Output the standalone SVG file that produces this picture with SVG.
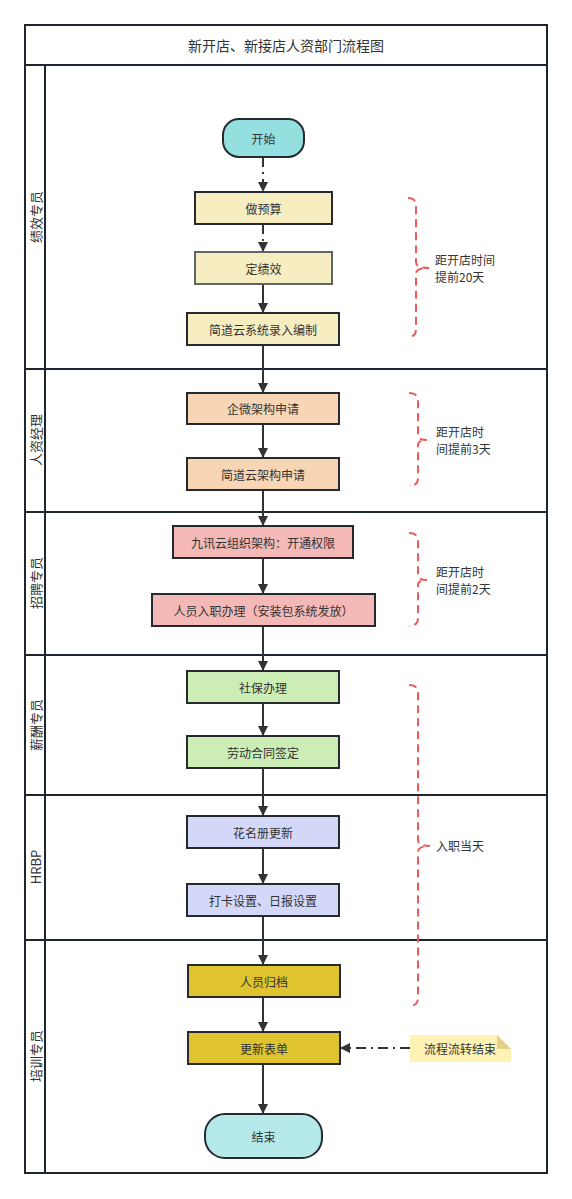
<svg xmlns="http://www.w3.org/2000/svg" width="572" height="1199" viewBox="0 0 572 1199">
<defs>
<style>
text{font-family:"Noto Sans CJK SC","Liberation Sans",sans-serif;fill:#333;}
.t{font-size:12px;text-anchor:middle;dominant-baseline:central;}
.lane{font-size:13px;text-anchor:middle;dominant-baseline:central;}
.frame{fill:none;stroke:#1f262e;stroke-width:2;}
.box{stroke:#262a2f;stroke-width:2;}
.edge{stroke:#333;stroke-width:2;fill:none;}
.dd{stroke-dasharray:10 5 2 5;}
.brace{fill:none;stroke:#ea5b5b;stroke-width:2;stroke-dasharray:8 5;}
.bt{font-size:12px;}
</style>
<marker id="arr" viewBox="0 0 10 10" refX="10" refY="5" markerWidth="5" markerHeight="5" orient="auto" markerUnits="strokeWidth">
<path d="M0,0 L10,5 L0,10 Z" fill="#333"/>
</marker>
</defs>
<rect width="572" height="1199" fill="#fff"/>
<g id="frame">
<rect class="frame" x="25" y="25" width="522" height="1148" fill="#fff"/>
<line class="frame" x1="25" y1="65" x2="547" y2="65"/>
<line class="frame" x1="45" y1="65" x2="45" y2="1173"/>
<line class="frame" x1="25" y1="369" x2="547" y2="369"/>
<line class="frame" x1="25" y1="512" x2="547" y2="512"/>
<line class="frame" x1="25" y1="655" x2="547" y2="655"/>
<line class="frame" x1="25" y1="795" x2="547" y2="795"/>
<line class="frame" x1="25" y1="940" x2="547" y2="940"/>
<text x="286" y="45" class="t" style="font-size:14px">新开店、新接店人资部门流程图</text>
<text class="lane" transform="translate(35,217) rotate(-90)">绩效专员</text>
<text class="lane" transform="translate(35,440) rotate(-90)">人资经理</text>
<text class="lane" transform="translate(35,583) rotate(-90)">招聘专员</text>
<text class="lane" transform="translate(35,725) rotate(-90)">薪酬专员</text>
<text class="lane" transform="translate(35,867) rotate(-90)">HRBP</text>
<text class="lane" transform="translate(35,1056) rotate(-90)">培训专员</text>
</g>
<g id="connectors">
<line class="edge dd" x1="263" y1="157" x2="263" y2="192" marker-end="url(#arr)"/>
<line class="edge dd" x1="263" y1="224" x2="263" y2="252" marker-end="url(#arr)"/>
<line class="edge" x1="263" y1="284" x2="263" y2="313" marker-end="url(#arr)"/>
<line class="edge" x1="263" y1="345" x2="263" y2="393" marker-end="url(#arr)"/>
<line class="edge" x1="263" y1="424" x2="263" y2="458" marker-end="url(#arr)"/>
<line class="edge" x1="263" y1="490" x2="263" y2="526" marker-end="url(#arr)"/>
<line class="edge" x1="263" y1="558" x2="263" y2="594" marker-end="url(#arr)"/>
<line class="edge" x1="263" y1="626" x2="263" y2="671" marker-end="url(#arr)"/>
<line class="edge" x1="263" y1="703" x2="263" y2="736" marker-end="url(#arr)"/>
<line class="edge" x1="263" y1="768" x2="263" y2="816" marker-end="url(#arr)"/>
<line class="edge" x1="263" y1="848" x2="263" y2="884" marker-end="url(#arr)"/>
<line class="edge" x1="263" y1="916" x2="263" y2="965" marker-end="url(#arr)"/>
<line class="edge" x1="263" y1="997" x2="263" y2="1032" marker-end="url(#arr)"/>
<line class="edge" x1="263" y1="1064" x2="263" y2="1114" marker-end="url(#arr)"/>
<line class="edge dd" x1="410" y1="1048" x2="340" y2="1048" marker-end="url(#arr)"/>
</g>
<g id="n-start"><rect class="box" x="223" y="119" width="81" height="38" rx="16" fill="#94e0e1"/><text class="t" x="263.5" y="138">开始</text></g>
<g id="n1"><rect class="box" x="195" y="192" width="137" height="32" fill="#f6edc1"/><text class="t" x="263.5" y="208">做预算</text></g>
<g id="n2"><rect class="box" x="195" y="252" width="137" height="32" fill="#f6edc1" style="stroke:#5f6469"/><text class="t" x="263.5" y="268">定绩效</text></g>
<g id="n3"><rect class="box" x="187" y="313" width="152" height="32" fill="#f6edc1"/><text class="t" x="263" y="329">简道云系统录入编制</text></g>
<g id="n4"><rect class="box" x="187" y="393" width="152" height="31" fill="#f8d6b5"/><text class="t" x="263" y="408.5">企微架构申请</text></g>
<g id="n5"><rect class="box" x="187" y="458" width="152" height="32" fill="#f8d6b5"/><text class="t" x="263" y="474">简道云架构申请</text></g>
<g id="n6"><rect class="box" x="173" y="526" width="180" height="32" fill="#f4b9b7"/><text class="t" x="263" y="542">九讯云组织架构：开通权限</text></g>
<g id="n7"><rect class="box" x="152" y="594" width="223" height="32" fill="#f4b9b7"/><text class="t" x="263.5" y="610">人员入职办理（安装包系统发放）</text></g>
<g id="n8"><rect class="box" x="187" y="671" width="152" height="32" fill="#cdedb6"/><text class="t" x="263" y="687">社保办理</text></g>
<g id="n9"><rect class="box" x="187" y="736" width="152" height="32" fill="#cdedb6"/><text class="t" x="263" y="752">劳动合同签定</text></g>
<g id="n10"><rect class="box" x="187" y="816" width="152" height="32" fill="#d3d7f8"/><text class="t" x="263" y="832">花名册更新</text></g>
<g id="n11"><rect class="box" x="187" y="884" width="152" height="32" fill="#d3d7f8"/><text class="t" x="263" y="900">打卡设置、日报设置</text></g>
<g id="n12"><rect class="box" x="188" y="965" width="152" height="32" fill="#dfc32f"/><text class="t" x="264" y="981">人员归档</text></g>
<g id="n13"><rect class="box" x="188" y="1032" width="152" height="32" fill="#dfc32f"/><text class="t" x="264" y="1048">更新表单</text></g>
<g id="n-end"><rect class="box" x="205" y="1114" width="117" height="44" rx="20" fill="#b6eaea"/><text class="t" x="263.5" y="1136">结束</text></g>
<g id="note">
<path d="M410,1035 H497 L511,1049 V1062 H410 Z" fill="#fff2b5"/>
<path d="M497,1035 L511,1049 H497 Z" fill="#e6d18c"/>
<text class="t" x="460" y="1048.5">流程流转结束</text>
</g>
<g id="brace1">
<path class="brace" d="M408,198 Q416,198 416,206 V262 Q416,268 429,268 Q416,268 416,274 V329 Q416,337 408,337"/>
<text class="bt" x="435" y="265">距开店时间</text>
<text class="bt" x="435" y="282">提前20天</text>
</g>
<g id="brace2">
<path class="brace" d="M409,393 Q418,393 418,401 V435 Q418,440 427,440 Q418,440 418,445 V478 Q418,486 409,486"/>
<text class="bt" x="436" y="437">距开店时</text>
<text class="bt" x="436" y="454">间提前3天</text>
</g>
<g id="brace3">
<path class="brace" d="M409,533 Q418,533 418,541 V575 Q418,580 427,580 Q418,580 418,585 V618 Q418,626 409,626"/>
<text class="bt" x="436" y="577">距开店时</text>
<text class="bt" x="436" y="594">间提前2天</text>
</g>
<g id="brace4">
<path class="brace" d="M409,685 Q418,685 418,693 V840 Q418,846 430,846 Q418,846 418,852 V998 Q418,1006 409,1006"/>
<text class="bt" x="436" y="851">入职当天</text>
</g>
</svg>
